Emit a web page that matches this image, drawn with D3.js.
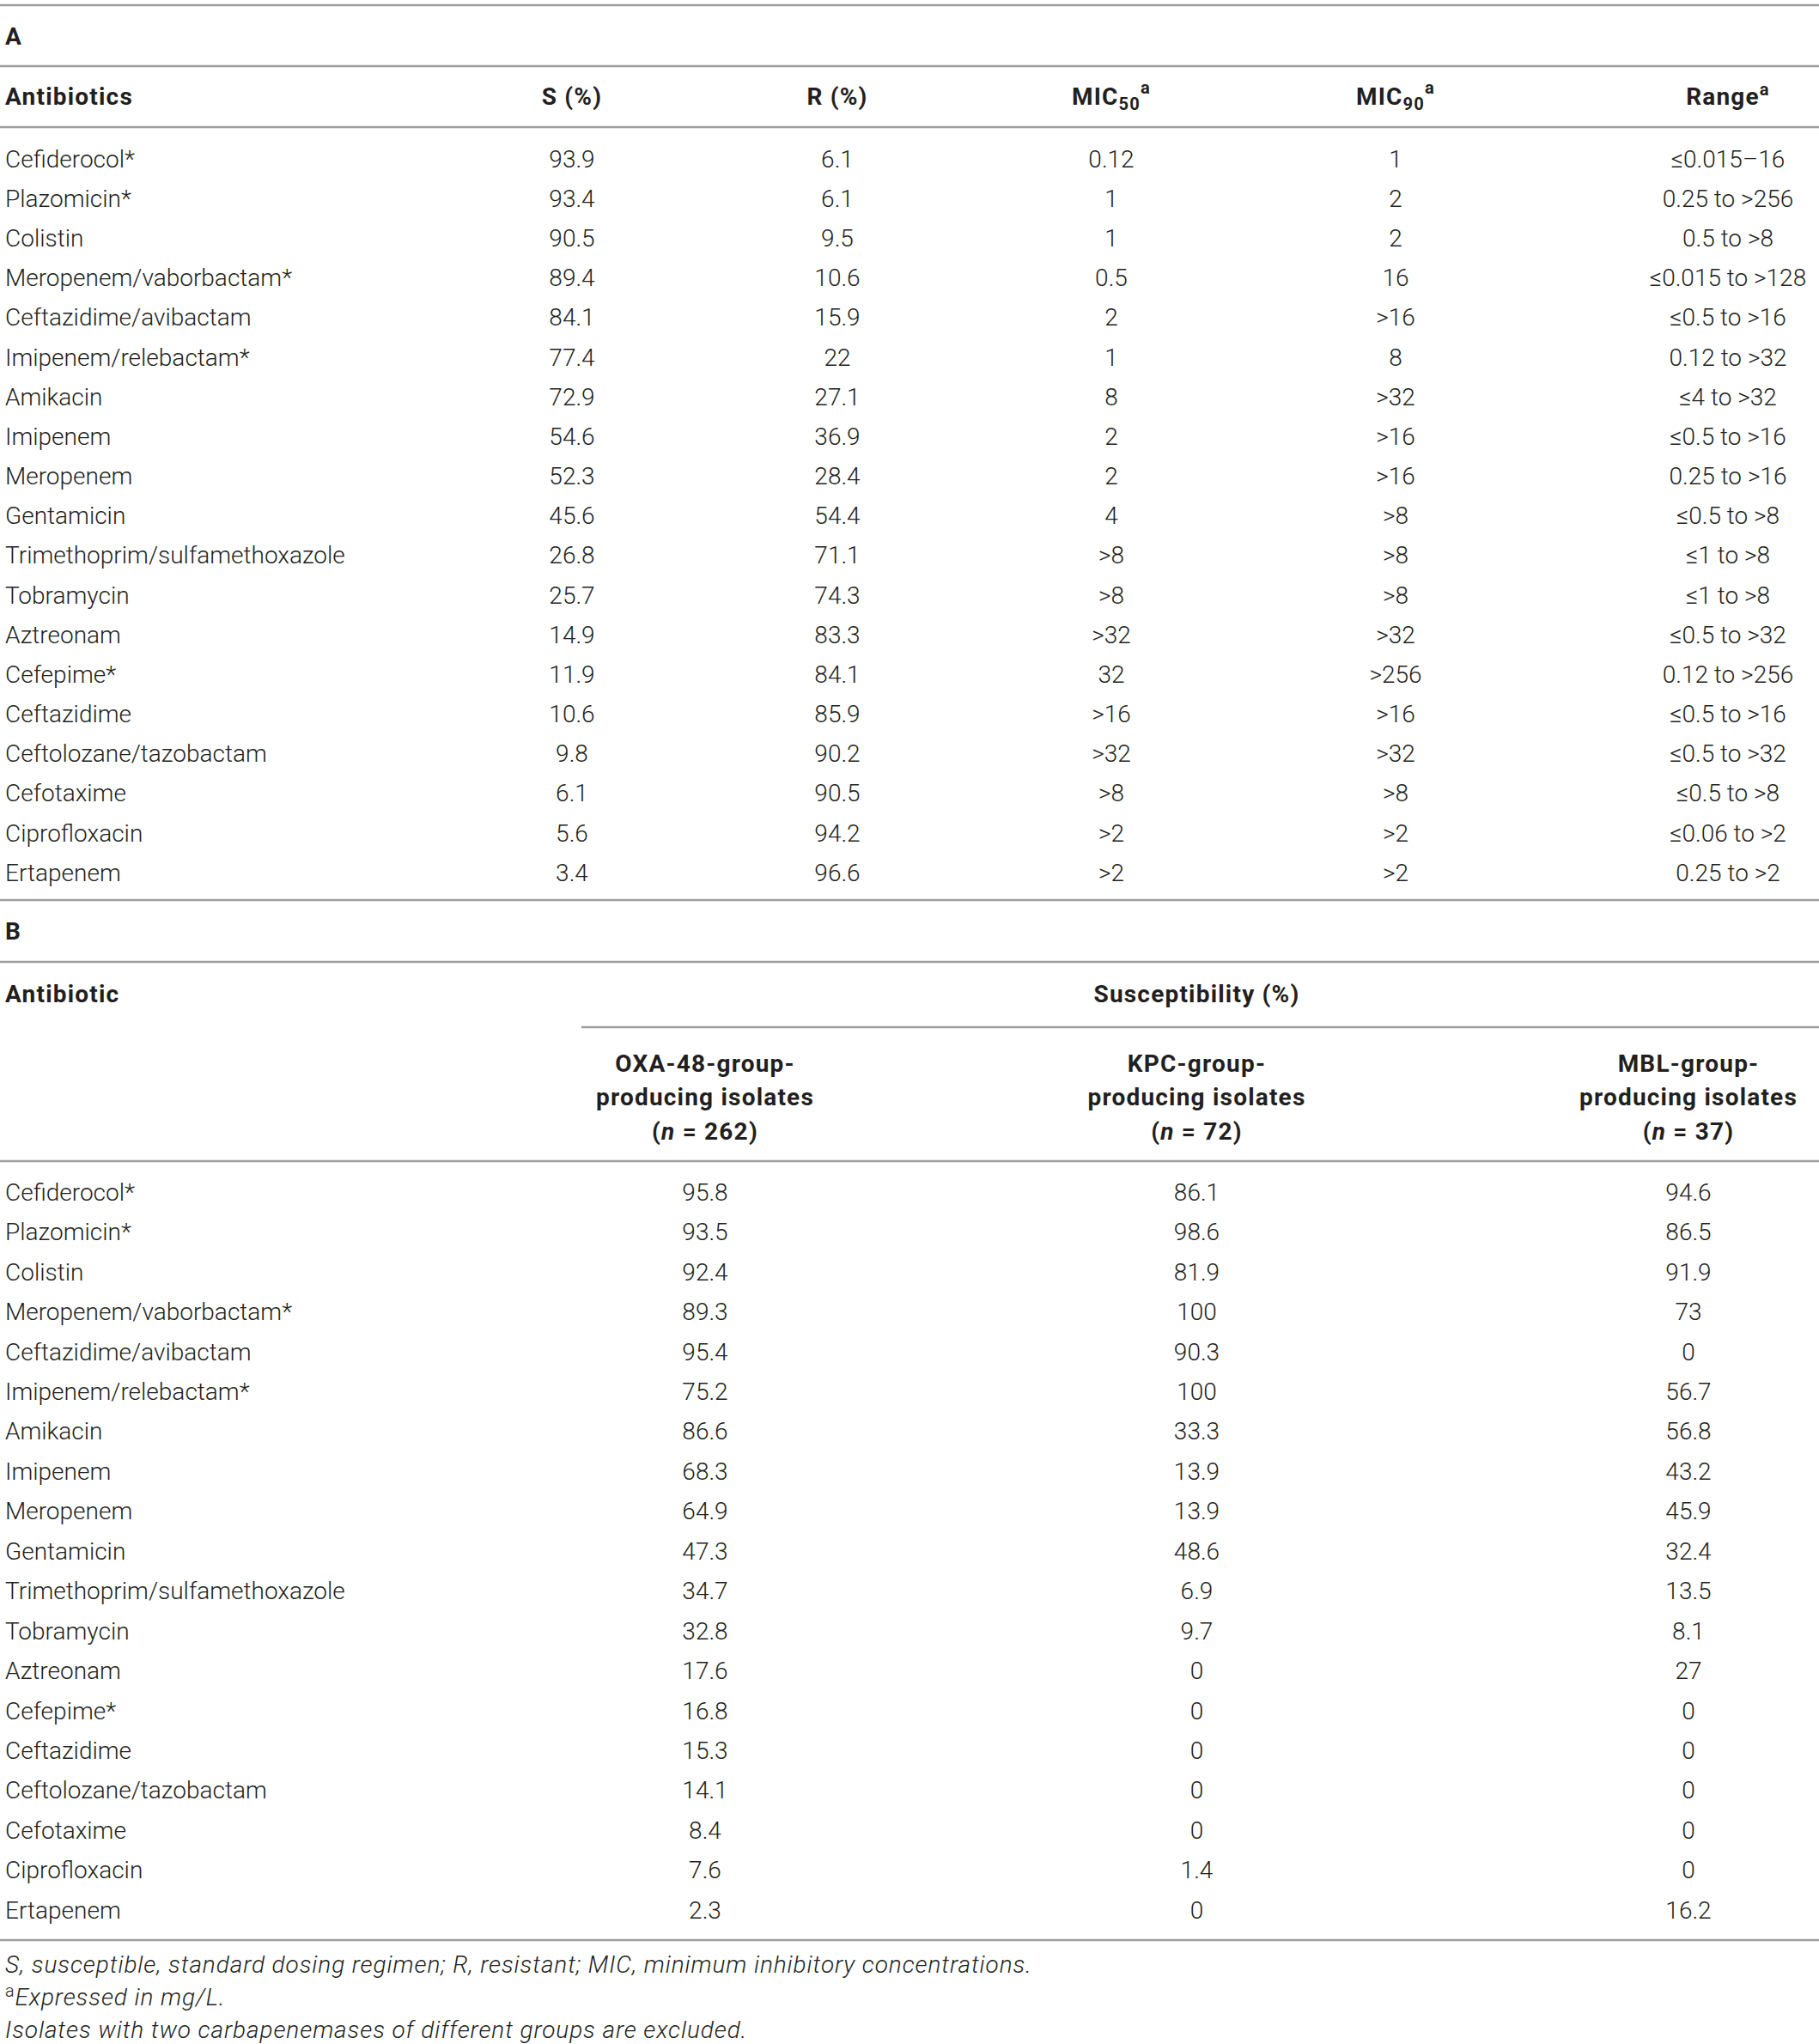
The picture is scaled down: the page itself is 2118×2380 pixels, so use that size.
<!DOCTYPE html>
<html>
<head>
<meta charset="utf-8">
<script src="https://cdn.jsdelivr.net/npm/d3@7"></script>
<style>
  body { margin: 0; background: #fff; }
  text { font-family: Roboto, "Liberation Sans", sans-serif; fill: #231f20; }
</style>
</head>
<body>
<script>
// antibiotic names, shared by both panels
const antibiotics = ["Cefiderocol*", "Plazomicin*", "Colistin", "Meropenem/vaborbactam*",
  "Ceftazidime/avibactam", "Imipenem/relebactam*", "Amikacin", "Imipenem", "Meropenem",
  "Gentamicin", "Trimethoprim/sulfamethoxazole", "Tobramycin", "Aztreonam", "Cefepime*",
  "Ceftazidime", "Ceftolozane/tazobactam", "Cefotaxime", "Ciprofloxacin", "Ertapenem"];

// panel A
const susceptible = [93.9, 93.4, 90.5, 89.4, 84.1, 77.4, 72.9, 54.6, 52.3, 45.6, 26.8, 25.7, 14.9, 11.9, 10.6, 9.8, 6.1, 5.6, 3.4];
const resistant = [6.1, 6.1, 9.5, 10.6, 15.9, 22, 27.1, 36.9, 28.4, 54.4, 71.1, 74.3, 83.3, 84.1, 85.9, 90.2, 90.5, 94.2, 96.6];
const mic50 = ["0.12", "1", "1", "0.5", "2", "1", "8", "2", "2", "4", ">8", ">8", ">32", "32", ">16", ">32", ">8", ">2", ">2"];
const mic90 = ["1", "2", "2", "16", ">16", "8", ">32", ">16", ">16", ">8", ">8", ">8", ">32", ">256", ">16", ">32", ">8", ">2", ">2"];
const ranges = ["≤0.015–16", "0.25 to >256", "0.5 to >8", "≤0.015 to >128", "≤0.5 to >16", "0.12 to >32",
  "≤4 to >32", "≤0.5 to >16", "0.25 to >16", "≤0.5 to >8", "≤1 to >8", "≤1 to >8", "≤0.5 to >32",
  "0.12 to >256", "≤0.5 to >16", "≤0.5 to >32", "≤0.5 to >8", "≤0.06 to >2", "0.25 to >2"];
const headersA = ["S (%)", "R (%)", "MIC50", "MIC90", "Range"];

// panel B
const oxa48 = [95.8, 93.5, 92.4, 89.3, 95.4, 75.2, 86.6, 68.3, 64.9, 47.3, 34.7, 32.8, 17.6, 16.8, 15.3, 14.1, 8.4, 7.6, 2.3];
const kpc = [86.1, 98.6, 81.9, 100, 90.3, 100, 33.3, 13.9, 13.9, 48.6, 6.9, 9.7, 0, 0, 0, 0, 0, 1.4, 0];
const mbl = [94.6, 86.5, 91.9, 73, 0, 56.7, 56.8, 43.2, 45.9, 32.4, 13.5, 8.1, 27, 0, 0, 0, 0, 0, 16.2];
const groups = ["OXA-48-group-", "KPC-group-", "MBL-group-"];
const groupN = [262, 72, 37];

const footnotes = ["S, susceptible, standard dosing regimen; R, resistant; MIC, minimum inhibitory concentrations.",
  "Expressed in mg/L.",
  "Isolates with two carbapenemases of different groups are excluded."];

const W = 2118, H = 2380;
const svg = d3.select("body").append("svg")
    .attr("width", W)
    .attr("height", H)
    .attr("viewBox", [0, 0, W, H]);

const fs = 28;
const boldSpacing = 1.2;
const lineColor = "#9d9d9d";

function rule(y, x1 = 0, x2 = W) {
  svg.append("line")
    .attr("x1", x1).attr("x2", x2)
    .attr("y1", y).attr("y2", y)
    .attr("stroke", lineColor)
    .attr("stroke-width", 2.5);
}

function label(x, y, txt, anchor = "start") {
  return svg.append("text")
    .attr("x", x).attr("y", y)
    .attr("dy", "0.35em")
    .attr("text-anchor", anchor)
    .attr("font-size", fs)
    .attr("font-weight", 700)
    .attr("letter-spacing", boldSpacing)
    .text(txt);
}

// ---------- panel A ----------
rule(6);
label(6, 42, "A");
rule(77);

// column centres, Range sits further out than an even spacing
const colA = [666, 975, 1294, 1625, 2012];

label(6, 112, "Antibiotics");
headersA.forEach((h, i) => {
  let t = label(colA[i], 112, "", "middle");
  if (h.startsWith("MIC")) {
    t.append("tspan").text("MIC");
    t.append("tspan").attr("font-size", fs * 0.72).attr("dy", "0.3em").text(h.slice(3));
    t.append("tspan").attr("font-size", fs * 0.72).attr("dy", "-0.95em").text("a");
  } else if (h === "Range") {
    t.append("tspan").text("Range");
    t.append("tspan").attr("font-size", fs * 0.72).attr("dy", "-0.55em").text("a");
  } else {
    t.text(h);
  }
});
rule(148);

let yA = d3.scalePoint(antibiotics, [185, 1016]);

const rowsA = antibiotics.map((d, i) => [d, susceptible[i], resistant[i], mic50[i], mic90[i], ranges[i]]);

svg.append("g")
  .selectAll("g")
  .data(rowsA)
  .join("g")
    .attr("transform", d => `translate(0,${yA(d[0])})`)
    .call(g => g.append("text")
      .attr("x", 6)
      .attr("dy", "0.35em")
      .attr("font-size", fs)
      .attr("font-weight", 300)
      .text(d => d[0]))
    .call(g => g.selectAll("text.cell")
      .data(d => d.slice(1))
      .join("text")
        .attr("class", "cell")
        .attr("x", (d, i) => colA[i])
        .attr("dy", "0.35em")
        .attr("text-anchor", "middle")
        .attr("font-size", fs)
        .attr("font-weight", 300)
        .text(d => d));

rule(1048);

// ---------- panel B ----------
label(6, 1084, "B");
rule(1120);
label(6, 1157, "Antibiotic");

let xB = d3.scalePoint(groups, [821, 1966]);
label((xB(groups[0]) + xB(groups[2])) / 2, 1157, "Susceptibility (%)", "middle");
rule(1196, 677, W);

groups.forEach((g, i) => {
  label(xB(g), 1238, g, "middle");
  label(xB(g), 1277, "producing isolates", "middle");
  let t = label(xB(g), 1317, "", "middle");
  t.append("tspan").text("(");
  t.append("tspan").attr("font-style", "italic").text("n");
  t.append("tspan").text(` = ${groupN[i]})`);
});
rule(1352);

let yB = d3.scalePoint(antibiotics, [1388, 2224]);
const rowsB = antibiotics.map((d, i) => [d, oxa48[i], kpc[i], mbl[i]]);

svg.append("g")
  .selectAll("g")
  .data(rowsB)
  .join("g")
    .attr("transform", d => `translate(0,${yB(d[0])})`)
    .call(g => g.append("text")
      .attr("x", 6)
      .attr("dy", "0.35em")
      .attr("font-size", fs)
      .attr("font-weight", 300)
      .text(d => d[0]))
    .call(g => g.selectAll("text.cell")
      .data(d => d.slice(1))
      .join("text")
        .attr("class", "cell")
        .attr("x", (d, i) => xB(groups[i]))
        .attr("dy", "0.35em")
        .attr("text-anchor", "middle")
        .attr("font-size", fs)
        .attr("font-weight", 300)
        .text(d => d));

rule(2259);

// ---------- footnotes ----------
const yF = [2287, 2325, 2363];
footnotes.forEach((f, i) => {
  let t = svg.append("text")
    .attr("x", 6).attr("y", yF[i] + 10)
    .attr("font-size", fs)
    .attr("letter-spacing", 0.9)
    .attr("font-style", "italic")
    .attr("font-weight", 300);
  if (i === 1) {
    t.append("tspan").attr("font-style", "normal").attr("font-size", fs * 0.7).attr("dy", "-0.5em").text("a");
    t.append("tspan").attr("dy", "0.35em").text(f);
  } else {
    t.text(f);
  }
});
</script>
</body>
</html>
